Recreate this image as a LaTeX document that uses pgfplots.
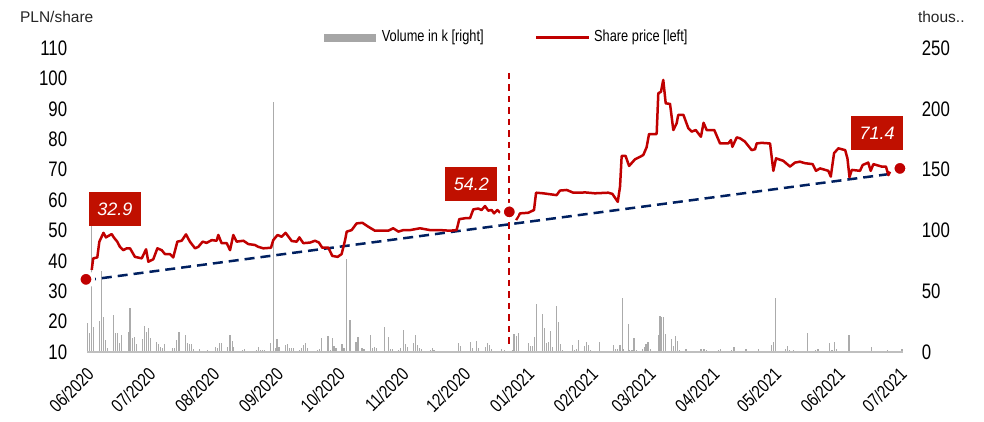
\documentclass[border=0pt]{standalone}
\usepackage{fontspec}
\setmainfont{Liberation Sans}
\newfontfamily\narrowfont[FakeStretch=0.8]{Liberation Sans}
\usepackage{pgfplots}
\pgfplotsset{compat=1.18}
\definecolor{pricered}{RGB}{192,0,0}
\definecolor{boxred}{RGB}{192,16,0}
\definecolor{navy}{RGB}{0,32,96}
\definecolor{volgray}{RGB}{171,171,171}
\definecolor{leggray}{RGB}{166,166,166}
\newcommand{\tickfont}{\narrowfont\fontsize{21bp}{21bp}\selectfont}
\newcommand{\xfont}{\narrowfont\fontsize{18.5bp}{18.5bp}\selectfont}
\newcommand{\legfont}{\narrowfont\fontsize{16bp}{16bp}\selectfont}
\newcommand{\boxfont}{\itshape\fontsize{18bp}{18bp}\selectfont}
\begin{document}
\begin{tikzpicture}
\useasboundingbox (0,0) rectangle (984bp,422bp);
% ---------- volume (right axis)
\begin{axis}[at={(87bp,70bp)}, anchor=south west, scale only axis,
  width=816bp, height=304bp, xmin=0, xmax=396.5, ymin=0, ymax=250,
  axis line style={draw=none}, major tick length=0pt,
  xtick=\empty, ytick={0,50,...,250}, yticklabel pos=right,
  yticklabel style={font=\tickfont, anchor=west, inner sep=0pt, xshift=18.7bp},
  /pgf/number format/assume math mode=true, clip=false]
\addplot[ycomb, volgray, line width=1.1bp, mark=none] coordinates {
(0.2,23.6)(1.1,15.9)(2.3,105)(3.1,20.3)(6,25.8)(7.1,66.6)(7.9,28.5)(8.9,9.9)(10,3)(13,30.4)(13.9,15.4)(14.9,15.9)(15.9,7.7)(16.8,14)(20.1,16.2)(20.9,36.2)(22,11.3)(23,12.1)(24,6.6)(26.9,10.4)(27.8,21.4)(28.8,16.7)(29.8,20)(30.8,11.3)(33.7,8.2)(34.6,6.6)(35.6,4.4)(36.6,3)(37.6,6.3)(40.5,1.1)(41.4,3.5)(42.4,3)(43.7,9.9)(44.7,16.2)(47.8,14)(48.7,7.1)(49.7,6.6)(50.7,6.6)(51.7,2.5)(54.6,2.5)(55.5,1.1)(58.5,1.6)(61.4,1.1)(62.3,3.9)(63.3,3)(64.3,7.1)(65.3,7.1)(68.2,3.9)(69.5,14)(70.5,9)(71.4,4.4)(72.4,1.1)(75.6,1.6)(76.6,2.5)(77.6,1.1)(78.6,1)(82.4,1.6)(83.4,3.9)(84.4,1.6)(85.4,1.6)(86.4,1.6)(89.2,7.1)(90.5,205.6)(91.4,3)(92.3,10.4)(93.3,4.4)(96.4,5.8)(97.3,6.6)(98.3,3)(99.3,3)(100.2,3)(103.2,1.6)(104.1,3)(105.1,5.5)(106.1,7.7)(107,3)(110,1)(111,1)(112,1.6)(113,2.2)(113.9,11.3)(115,1)(117.1,13.2)(118.1,1.6)(119.1,11.3)(120,5)(121,3)(123.9,6.6)(124.9,3)(126.2,76.2)(127.8,26.3)(130.7,8.5)(131.7,12.6)(133.6,3)(134.6,2.5)(137.8,14)(138.8,3)(139.8,4.4)(140.8,3)(144.6,20.3)(145.6,1)(146.6,12.6)(147.6,2.2)(148.5,2.5)(151.4,1.6)(152.4,3)(153.7,18.1)(154.7,6.6)(155.6,4.4)(158.6,7.1)(159.5,14)(160.5,5.5)(161.5,3)(162.5,2.5)(165.7,1)(166.7,1.6)(167.7,3)(168.6,1.6)(169.6,1)(172.5,1)(173.5,1)(179.6,1)(180.6,7.1)(181.6,5)(186.4,8.5)(187.4,3)(189.3,9.3)(190.3,3)(193.5,4.4)(194.5,7.1)(195.5,5.5)(196.4,2.2)(201.5,2.2)(203,1.6)(206.8,1.6)(207.5,14.8)(208.5,13.2)(209.6,15.4)(213.6,0.5)(214.6,7.7)(215.6,4.9)(216.6,4.9)(217.5,12.6)(218.5,39.5)(219.4,0.5)(221.4,31)(222.4,19.5)(223.4,7.7)(224.4,7.9)(225.3,17.5)(226.3,4.4)(228.2,37.8)(229.2,25)(230.2,6.8)(231.1,1.6)(232.1,0.5)(236,5.8)(237,1.6)(238,2.7)(238.9,9.9)(241.8,4.9)(242.8,7.9)(243.8,5.8)(244.7,1.6)(249,7.9)(250,0.5)(255.7,5.8)(256.7,2.2)(257.7,2.7)(259,5.8)(260,44.1)(260.9,2.7)(262.9,22.8)(263.8,1.6)(264.8,1.6)(265.8,11.3)(266.8,1.6)(269.7,2.7)(270.7,4.4)(271.6,6.8)(272.6,8.5)(273.6,2.2)(277.6,14)(278.4,29.6)(279.2,29)(280,29)(280.9,14.8)(284.1,10.4)(284.9,4.9)(285.9,13.2)(286.8,9.3)(287.8,1.6)(290.6,2.2)(291.4,2.2)(297.9,2.7)(298.8,2.7)(299.8,2.2)(300.8,1.6)(306,1.1)(306.9,1.6)(307.9,2.2)(313.3,1.6)(314.4,3.8)(320.2,2.7)(321.2,1.1)(325.4,1.1)(326.4,2.2)(328.6,1.1)(329.6,1.1)(332.5,5.8)(333.5,8.5)(334.5,44.1)(339.3,2.2)(340.3,4.9)(341.2,1.6)(343.2,1.6)(346.3,1.1)(350.3,15.4)(353.9,1.6)(354.9,2.7)(355.5,2.2)(361,7.7)(362,1.6)(363,8.5)(364,2.2)(370.1,14)(370.7,14)(381.1,4.4)(382.1,1.1)(388.9,1.6)(396,2.2)
};
\draw[color=black!25, line width=1.5bp] (axis cs:0,0) -- (axis cs:396.5,0);
\end{axis}
% ---------- price (left axis)
\begin{axis}[at={(87bp,70bp)}, anchor=south west, scale only axis,
  width=816bp, height=304bp, xmin=0, xmax=396.5, ymin=10, ymax=110,
  axis line style={draw=none}, major tick length=0pt,
  ytick={10,20,...,110},
  yticklabel style={font=\tickfont, anchor=east, inner sep=0pt, xshift=-19.7bp},
  xtick={0,30,61,92,122,153,183,214,245,273,304,334,365,395},
  xticklabels={06/2020,07/2020,08/2020,09/2020,10/2020,11/2020,12/2020,01/2021,02/2021,03/2021,04/2021,05/2021,06/2021,07/2021},
  xticklabel style={font=\xfont, rotate=45, anchor=east, inner sep=0pt, xshift=-11bp, yshift=-16bp},
  /pgf/number format/assume math mode=true, clip=false]
% trend line
\addplot[navy, line width=2.5bp, dash pattern=on 10bp off 6bp] coordinates {(-0.5,33.6) (395,69)};
% vertical marker
\addplot[pricered, line width=2bp, dash pattern=on 6.5bp off 5bp] coordinates {(205.2,101.8) (205.2,11.6)};
% share price
\addplot[pricered, line width=2.5bp, line join=round] coordinates {
(2.3,37.0)(3,40.8)(5,41.1)(6,46.3)(8,49.2)(9.2,47.7)(12,48.8)(13,47.7)(14.7,46.3)(16,44.6)(17.6,43.5)(19.3,44.1)(20.9,44.1)(23.3,41.3)(26.6,40.8)(28.7,43.8)(29.8,39.7)(32.2,40.5)(34.2,44.1)(36.3,43.5)(37.9,42.2)(40.3,42.2)(41.9,41.1)(43.9,46.3)(46,46.6)(48.1,48.7)(50,46.3)(52.5,44.1)(54.1,44.6)(56.2,46.3)(58.1,45.9)(60.6,46.8)(63,46.6)(63.8,48.5)(65.4,45.8)(67.9,45.8)(69.5,43.5)(71.1,48.5)(72.7,46.3)(76,46.6)(78.4,45.5)(81.6,45.2)(83.2,44.6)(85.7,44.1)(89.4,44.3)(90.5,46.8)(92.6,48.5)(94.6,47.9)(96.5,49.2)(99.5,46.5)(101.9,46.3)(103.2,47.7)(105.1,45.8)(108.4,46.0)(110.8,46.6)(112.7,46.0)(114.3,44.3)(117.3,44.3)(119.2,41.6)(121.8,41.3)(123.7,42.2)(125.4,46.8)(126.2,49.6)(128.6,50.1)(131,52.3)(133.8,52.5)(136.7,51.2)(139.9,49.9)(146.4,49.9)(148.8,50.7)(151.3,49.6)(153.7,50.1)(157,50.1)(161.8,50.7)(166.7,50.1)(171.5,50.1)(176.4,49.9)(179.6,50.1)(180.9,53.7)(183.7,54.0)(186.1,54.0)(187.7,56.9)(190.1,57.2)(191.7,56.7)(193.4,58.0)(195,56.5)(196.6,56.7)(197.8,55.6)(199.4,56.7)(200.7,55.8)
};
\addplot[pricered, line width=2.5bp, line join=round] coordinates {
(208.5,53.4)(210.4,55.6)(214.4,55.8)(217.2,56.7)(218.2,62.4)(221.7,62.2)(228.2,61.6)(229.8,63.1)(233.1,63.3)(236.3,62.4)(239.6,62.4)(242,62.5)(246.8,62.2)(253.3,62.4)(255.3,62.0)(257.9,59.4)(259,64.4)(259.8,74.5)(261.7,74.5)(263.4,71.2)(266.3,73.4)(268.7,74.2)(270.3,74.8)(271.9,77.3)(273.1,81.7)(276.8,81.7)(277.6,95.1)(278.9,95.6)(280,99.5)(281.2,91.8)(283.3,91.6)(284.9,83.0)(286.5,85.2)(287.3,88.0)(289.8,88.0)(292.2,83.6)(293.8,82.5)(295.8,83.0)(298.3,80.8)(299.6,85.4)(301.1,83.0)(304.8,83.0)(307.6,78.6)(311.6,78.6)(312.9,79.7)(313.6,77.5)(315.7,80.6)(317.3,80.3)(319.7,79.2)(323,76.4)(324.6,76.7)(325.4,78.6)(327.8,78.8)(331.9,78.6)(333.5,69.6)(334.8,73.7)(338.3,72.9)(341.6,71.0)(344,72.3)(346.4,72.6)(348.9,72.1)(352.6,71.8)(354.2,69.6)(356.2,70.4)(360.2,69.6)(361.4,67.7)(363,75.4)(365.1,77.0)(368.4,76.4)(369.5,73.7)(370.5,67.5)(371.6,69.9)(375.6,69.6)(376.9,71.5)(379.6,72.3)(380.8,69.6)(382.1,71.8)(386.1,71.0)(388.2,71.0)(389.4,68.2)(390.2,69.3)
};
% highlighted points
\addplot[only marks, mark=*, mark size=7.25bp, mark options={fill=pricered, draw=white, line width=3.5bp}] coordinates {(-0.5,33.9) (205.2,56.1) (395,70.4)};
% value boxes
\node[fill=boxred, text=white, font=\boxfont, minimum width=52bp, minimum height=33.5bp, inner sep=0pt] at (axis cs:13.6,57.0) {32.9};
\node[fill=boxred, text=white, font=\boxfont, minimum width=52bp, minimum height=33.5bp, inner sep=0pt] at (axis cs:186.8,65.3) {54.2};
\node[fill=boxred, text=white, font=\boxfont, minimum width=52bp, minimum height=33.5bp, inner sep=0pt] at (axis cs:383.9,82.1) {71.4};
\end{axis}
% ---------- titles and legend
\node[font=\fontsize{15.5bp}{15.5bp}\selectfont, text=black!85] at (56.7bp,405bp) {PLN/share};
\node[font=\fontsize{15.5bp}{15.5bp}\selectfont, text=black!85] at (941.3bp,405bp) {thous..};
\fill[leggray] (324bp,379.5bp) rectangle (375.7bp,387.5bp);
\node[font=\legfont, anchor=west, inner sep=0pt] at (381.7bp,384.3bp) {Volume in k [right]};
\draw[pricered, line width=2.5bp] (536bp,384.3bp) -- (589.3bp,384.3bp);
\node[font=\legfont, anchor=west, inner sep=0pt] at (594bp,384.3bp) {Share price [left]};
\end{tikzpicture}
\end{document}
